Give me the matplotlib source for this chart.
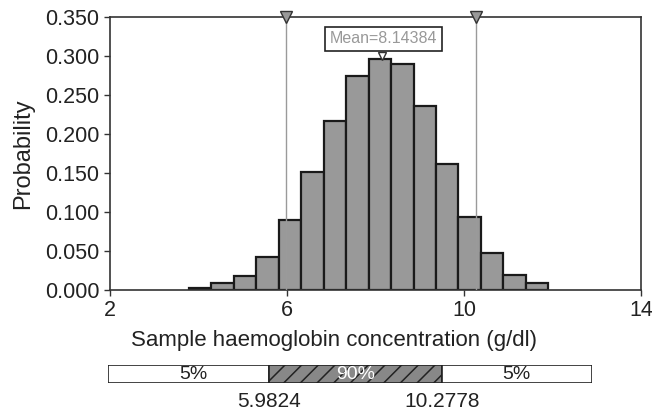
import matplotlib
matplotlib.use("Agg")
import matplotlib.pyplot as plt
from matplotlib.patches import Rectangle
import numpy as np

plt.rcParams['font.family'] = ['Liberation Sans', 'DejaVu Sans']
plt.rcParams['hatch.linewidth'] = 1.1

# histogram data
bin_start = 3.78
bin_width = 0.508
probs = [0.003, 0.009, 0.018, 0.042, 0.090, 0.151, 0.217, 0.274,
         0.296, 0.290, 0.236, 0.161, 0.094, 0.048, 0.019, 0.009]
lower_5 = 5.9824
upper_95 = 10.2778
mean_val = 8.14384
yticks = [0.0, 0.05, 0.10, 0.15, 0.20, 0.25, 0.30, 0.35]
xticks = [2, 6, 10, 14]
band_labels = ['5%', '90%', '5%']

fig = plt.figure(figsize=(6.52, 4.11), dpi=100)
ax = fig.add_axes([0.1687, 0.2944, 0.8143, 0.6642])

lefts = bin_start + bin_width * np.arange(len(probs))
ax.bar(lefts, probs, width=bin_width, align='edge', color='#999999',
       edgecolor='#1a1a1a', linewidth=1.6, zorder=2)

for v in (lower_5, upper_95):
    ax.axvline(v, color='#9a9a9a', lw=1.0, zorder=3)
    ax.plot(v, 0.35, marker='v', ms=8, mfc='#999999', mec='#333333',
            mew=1.0, clip_on=False, zorder=5)

ax.plot(mean_val, max(probs) + 0.0035, marker='v', ms=6, mfc='white',
        mec='#333333', mew=1.0, zorder=5)
ax.text(mean_val + 0.03, 0.322, 'Mean=%.5f' % mean_val, ha='center', va='center',
        fontsize=11.5, color='#999999',
        bbox=dict(boxstyle='square,pad=0.3', fc='white', ec='#222222', lw=1.2),
        zorder=6)

ax.set_xlim(2, 14)
ax.set_ylim(0, 0.35)
ax.set_xticks(xticks)
ax.set_yticks(yticks)
ax.set_yticklabels(['%.3f' % t for t in yticks])
ax.tick_params(labelsize=15.5, color='#333333', length=4, width=1,
               labelcolor='#222222')
ax.tick_params(axis='x', pad=3)
ax.set_ylabel('Probability', fontsize=17, color='#222222', labelpad=8)
for s in ax.spines.values():
    s.set_color('#333333')
    s.set_linewidth(1.2)

fig.text(0.512, 0.1727, 'Sample haemoglobin concentration (g/dl)',
         ha='center', va='center', fontsize=16, color='#222222')

# percentile band below
bx = fig.add_axes([0.1656, 0.0674, 0.7423, 0.0445])
bx.set_xlim(0, 484)
bx.set_ylim(0, 1)
bx.axis('off')
seg = [0, 161, 333.7, 484]
bx.add_patch(Rectangle((seg[0], 0), seg[1] - seg[0], 1, fc='white',
                       ec='#222222', lw=1.2))
bx.add_patch(Rectangle((seg[1], 0), seg[2] - seg[1], 1, fc='#888888',
                       ec='#222222', lw=1.2, hatch='//'))
bx.add_patch(Rectangle((seg[2], 0), seg[3] - seg[2], 1, fc='white',
                       ec='#222222', lw=1.2))
centers = [(seg[0] + seg[1]) / 2 + 5, (seg[1] + seg[2]) / 2, (seg[2] + seg[3]) / 2]
for c, lab, col in zip(centers, band_labels, ['#222222', 'white', '#222222']):
    bx.text(c, 0.5, lab, ha='center', va='center', fontsize=14, color=col)
bx.text(seg[1], -0.45, '%.4f' % lower_5, ha='center', va='top', fontsize=15,
        color='#222222')
bx.text(seg[2], -0.45, '%.4f' % upper_95, ha='center', va='top', fontsize=15,
        color='#222222')

fig.savefig('out.png', dpi=100)
